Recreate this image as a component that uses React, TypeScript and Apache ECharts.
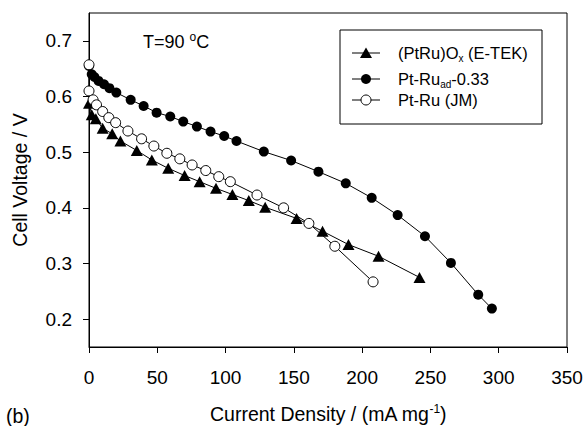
import React, { useEffect, useRef } from "react";
import * as echarts from "echarts";

const FONT = "'Liberation Sans', Arial, Helvetica, sans-serif";

// (PtRu)Ox (E-TEK) — triangles
const triX = [0, 2, 5, 10, 17, 23, 35, 46, 58, 70, 81, 93, 105, 117, 129, 152, 171, 190, 212, 242];
const triY = [0.588, 0.567, 0.56, 0.543, 0.533, 0.52, 0.503, 0.486, 0.471, 0.458, 0.447, 0.435, 0.424, 0.413, 0.401, 0.381, 0.358, 0.334, 0.313, 0.275];

// Pt-Ru_ad-0.33 — filled circles
const adX = [0, 2, 4, 7, 11, 15, 20, 30.5, 40, 49.5, 59.5, 69, 79, 89, 99, 108, 128, 148, 168, 188, 207, 226, 246, 265, 285, 295];
const adY = [0.655, 0.64, 0.635, 0.628, 0.622, 0.615, 0.607, 0.594, 0.583, 0.571, 0.564, 0.555, 0.546, 0.537, 0.529, 0.52, 0.501, 0.485, 0.465, 0.444, 0.418, 0.387, 0.349, 0.301, 0.244, 0.219];

// Pt-Ru (JM) — open circles
const jmX = [0, 0, 3, 5.5, 10, 14.5, 19.5, 28.5, 38.5, 47.5, 57, 66.5, 75.5, 85.5, 95, 103.5, 123, 142.5, 161, 180, 208];
const jmY = [0.657, 0.61, 0.594, 0.585, 0.573, 0.562, 0.553, 0.538, 0.524, 0.511, 0.498, 0.488, 0.477, 0.467, 0.456, 0.447, 0.423, 0.4, 0.372, 0.331, 0.267];

const yTicks = [0.2, 0.3, 0.4, 0.5, 0.6, 0.7];

const pairs = (xs: number[], ys: number[]) => xs.map((x, i) => [x, ys[i]]);

export default function App() {
  const ref = useRef<HTMLDivElement>(null);
  useEffect(() => {
    if (!ref.current) return;
    const chart = echarts.init(ref.current, undefined, { renderer: "svg" });
    const lx1 = 352, lx2 = 380, lmx = 366, ltx = 398;
    const rows = [53, 79, 100];
    const option: any = {
      animation: false,
      backgroundColor: "#fff",
      grid: {
        left: 89, right: 17, top: 13, bottom: 79,
        containLabel: false, outerBoundsMode: "none",
        show: true, borderColor: "#000", borderWidth: 1,
      },
      xAxis: {
        type: "value", min: 0, max: 350, interval: 50,
        axisLine: { show: true, onZero: false, lineStyle: { color: "#000", width: 1 } },
        axisTick: { show: true, inside: false, length: 6, lineStyle: { color: "#000" } },
        splitLine: { show: false },
        axisLabel: { color: "#000", fontSize: 19, fontFamily: FONT, margin: 21 },
        name: "Current Density / (mA mg{sup|-1})",
        nameLocation: "middle",
        nameGap: 56,
        nameTextStyle: {
          color: "#000", fontSize: 19.5, fontFamily: FONT, lineHeight: 22,
          rich: { sup: { fontSize: 12, fontFamily: FONT, color: "#000", verticalAlign: "top", lineHeight: 12 } },
        },
      },
      yAxis: {
        type: "value", min: 0.15, max: 0.75,
        axisLine: { show: true, onZero: false, lineStyle: { color: "#000", width: 1 } },
        axisTick: { show: true, inside: false, length: 6, lineStyle: { color: "#000" }, customValues: yTicks },
        splitLine: { show: false },
        axisLabel: {
          color: "#000", fontSize: 19, fontFamily: FONT, margin: 17,
          customValues: yTicks, formatter: (v: number) => v.toFixed(1),
        },
        name: "Cell Voltage / V",
        nameLocation: "middle",
        nameGap: 59,
        nameRotate: 90,
        nameTextStyle: { color: "#000", fontSize: 19.5, fontFamily: FONT },
      },
      series: [
        {
          name: "(PtRu)Ox (E-TEK)", type: "line", data: pairs(triX, triY),
          symbol: "triangle", symbolSize: [12, 11],
          lineStyle: { color: "#000", width: 1 },
          itemStyle: { color: "#000" },
        },
        {
          name: "Pt-Ru_ad-0.33", type: "line", data: pairs(adX, adY),
          symbol: "circle", symbolSize: 10,
          lineStyle: { color: "#000", width: 1 },
          itemStyle: { color: "#000" },
        },
        {
          name: "Pt-Ru (JM)", type: "line", data: pairs(jmX, jmY),
          symbol: "circle", symbolSize: 10,
          lineStyle: { color: "#000", width: 1 },
          itemStyle: { color: "#fff", borderColor: "#000", borderWidth: 1 },
        },
      ],
      graphic: [
        {
          type: "text", left: 143, top: 31,
          style: {
            text: "T=90 {sup|o}C", fill: "#000", fontSize: 18, fontFamily: FONT, lineHeight: 21,
            rich: { sup: { fontSize: 12, fontFamily: FONT, fill: "#000", verticalAlign: "top", lineHeight: 12 } },
          },
        },
        {
          type: "text", left: 6, top: 406,
          style: { text: "(b)", fill: "#000", fontSize: 19.5, fontFamily: FONT },
        },
        {
          type: "rect", shape: { x: 340, y: 30, width: 202, height: 94 },
          style: { fill: "#fff", stroke: "#000", lineWidth: 1 }, z: 100,
        },
        { type: "line", shape: { x1: lx1, y1: rows[0], x2: lx2, y2: rows[0] }, style: { stroke: "#000", lineWidth: 1 }, z: 101 },
        { type: "polygon", shape: { points: [[lmx, rows[0] - 5.5], [lmx - 6, rows[0] + 5], [lmx + 6, rows[0] + 5]] }, style: { fill: "#000" }, z: 102 },
        { type: "line", shape: { x1: lx1, y1: rows[1], x2: lx2, y2: rows[1] }, style: { stroke: "#000", lineWidth: 1 }, z: 101 },
        { type: "circle", shape: { cx: lmx, cy: rows[1], r: 5 }, style: { fill: "#000" }, z: 102 },
        { type: "line", shape: { x1: lx1, y1: rows[2], x2: lx2, y2: rows[2] }, style: { stroke: "#000", lineWidth: 1 }, z: 101 },
        { type: "circle", shape: { cx: lmx, cy: rows[2], r: 5 }, style: { fill: "#fff", stroke: "#000", lineWidth: 1 }, z: 102 },
        {
          type: "text", x: ltx, y: rows[0], z: 102,
          style: {
            text: "(PtRu)O{sub|x} (E-TEK)", fill: "#000", fontSize: 16.5, fontFamily: FONT,
            verticalAlign: "middle", lineHeight: 20,
            rich: { sub: { fontSize: 10, fontFamily: FONT, fill: "#000", verticalAlign: "bottom", lineHeight: 10 } },
          },
        },
        {
          type: "text", x: ltx, y: rows[1], z: 102,
          style: {
            text: "Pt-Ru{sub|ad}-0.33", fill: "#000", fontSize: 16.5, fontFamily: FONT,
            verticalAlign: "middle", lineHeight: 20,
            rich: { sub: { fontSize: 10, fontFamily: FONT, fill: "#000", verticalAlign: "bottom", lineHeight: 10 } },
          },
        },
        {
          type: "text", x: ltx, y: rows[2], z: 102,
          style: { text: "Pt-Ru (JM)", fill: "#000", fontSize: 16.5, fontFamily: FONT, verticalAlign: "middle" },
        },
      ],
    };
    chart.setOption(option);
    return () => chart.dispose();
  }, []);
  return <div ref={ref} style={{ width: 584, height: 426, position: "absolute", left: 0, top: 0 }} />;
}
